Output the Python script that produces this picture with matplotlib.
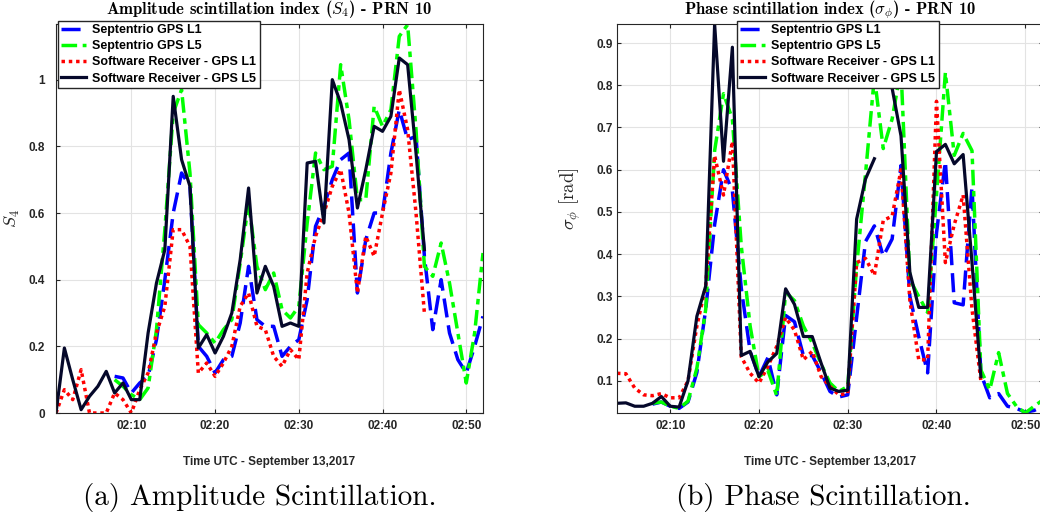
import numpy as np
import pandas as pd
import matplotlib
matplotlib.use("Agg")
import matplotlib.pyplot as plt
import matplotlib.dates as mdates

nan = np.nan

# ---------------- amplitude (S4), 02:01 .. 02:52 ----------------
t_amp = pd.date_range("2017-09-13 02:01", "2017-09-13 02:52", freq="min")
s4_sept_l1 = [nan]*7 + [0.11, 0.105, 0.06, 0.09, 0.11, 0.22, 0.40, 0.60, 0.72, 0.68, 0.20, 0.17, 0.12,
                        0.16, 0.17, 0.27, 0.44, 0.28, 0.26, 0.26, 0.17, 0.20, 0.22, 0.34, 0.56, 0.62,
                        0.70, 0.76, 0.78, 0.36, 0.52, 0.60, 0.60, 0.78, 0.91, 0.82, 0.83, 0.47, 0.25,
                        0.40, 0.24, 0.16, 0.12, 0.20, 0.29]
s4_sept_l5 = [nan]*7 + [0.10, 0.08, 0.055, 0.04, 0.075, 0.25, 0.55, 0.90, 0.97, 0.72, 0.265, 0.24, 0.21,
                        0.25, 0.28, 0.45, 0.63, 0.44, 0.37, 0.42, 0.31, 0.285, 0.32, 0.57, 0.78, 0.73,
                        0.74, 1.045, 0.88, 0.64, 0.64, 0.92, 0.86, 0.91, 1.13, 1.165, 0.85, 0.44, 0.41,
                        0.51, 0.39, 0.24, 0.09, 0.24, 0.48]
s4_sw_l1 = [0.0, 0.07, 0.04, 0.13, 0.0, 0.0, 0.0, 0.06, 0.04, 0.0, 0.07, 0.12, 0.24, 0.32, 0.55, 0.55,
            0.50, 0.12, 0.15, 0.11, 0.15, 0.20, 0.32, 0.36, 0.26, 0.25, 0.17, 0.14, 0.19, 0.16, 0.42,
            0.53, 0.60, 0.68, 0.73, 0.60, 0.36, 0.53, 0.47, 0.60, 0.72, 0.97, 0.85, 0.60, 0.30] + [nan]*7
s4_sw_l5 = [0.0, 0.195, 0.10, 0.01, 0.05, 0.08, 0.125, 0.06, 0.09, 0.04, 0.04, 0.24, 0.39, 0.49, 0.95,
            0.76, 0.68, 0.195, 0.235, 0.18, 0.23, 0.30, 0.46, 0.675, 0.36, 0.44, 0.38, 0.26, 0.27, 0.26,
            0.75, 0.755, 0.57, 1.0, 0.93, 0.82, 0.615, 0.73, 0.86, 0.845, 0.89, 1.065, 1.045, 0.78,
            0.49] + [nan]*7

# ---------------- phase (sigma_phi), 02:04 .. 02:52 ----------------
t_ph = pd.date_range("2017-09-13 02:04", "2017-09-13 02:52", freq="min")
ph_sept_l1 = [nan]*4 + [0.045, 0.05, 0.04, 0.035, 0.05, 0.12, 0.27, 0.47, 0.60, 0.55, 0.32, 0.17, 0.11,
                        0.155, 0.067, 0.255, 0.24, 0.16, 0.16, 0.12, 0.075, 0.062, 0.067, 0.25, 0.43,
                        0.467, 0.395, 0.436, 0.61, 0.30, 0.205, 0.119, 0.45, 0.62, 0.285, 0.28, 0.56,
                        0.117, 0.06, 0.07, 0.04, 0.035, 0.026, 0.03, 0.04]
ph_sept_l5 = [nan]*4 + [0.047, 0.05, 0.04, 0.035, 0.052, 0.13, 0.27, 0.645, 0.78, 0.72, 0.42, 0.23, 0.11,
                        0.125, 0.065, 0.31, 0.29, 0.23, 0.19, 0.14, 0.095, 0.075, 0.087, 0.37, 0.59,
                        0.82, 0.65, 0.72, 0.84, 0.34, 0.30, 0.262, 0.54, 0.83, 0.634, 0.686, 0.645,
                        0.126, 0.079, 0.167, 0.07, 0.04, 0.024, 0.04, 0.055]
ph_sw_l1 = [0.118, 0.117, 0.083, 0.067, 0.065, 0.07, 0.06, 0.06, 0.10, 0.23, 0.325, 0.633, 0.54, 0.667,
            0.157, 0.118, 0.095, 0.134, 0.182, 0.25, 0.22, 0.15, 0.17, 0.11, 0.087, 0.067, 0.07, 0.38,
            0.39, 0.35, 0.48, 0.49, 0.60, 0.29, 0.15, 0.15, 0.762, 0.38, 0.47, 0.54, 0.27, 0.10] + [nan]*7
ph_sw_l5 = [0.047, 0.048, 0.04, 0.04, 0.047, 0.063, 0.04, 0.038, 0.10, 0.253, 0.325, 0.945, 0.62, 0.89,
            0.16, 0.17, 0.11, 0.145, 0.165, 0.318, 0.281, 0.205, 0.205, 0.142, 0.083, 0.075, 0.078,
            0.483, 0.578, 0.626, nan, 0.793, 0.68, 0.357, 0.274, 0.274, 0.643, 0.66, 0.614, 0.636,
            0.38, 0.11] + [nan]*7

labels = ["Septentrio GPS L1", "Septentrio GPS L5",
          "Software Receiver - GPS L1", "Software Receiver - GPS L5"]
xticks = pd.to_datetime(["2017-09-13 02:10", "2017-09-13 02:20", "2017-09-13 02:30",
                         "2017-09-13 02:40", "2017-09-13 02:50"])

plt.rcParams["mathtext.fontset"] = "cm"
dark = "#262626"

fig = plt.figure(figsize=(10.4, 5.2), dpi=100)
ax1 = fig.add_axes([56/1040, 107/520, 427/1040, 389/520])
ax2 = fig.add_axes([617/1040, 107/520, 426/1040, 389/520])


def draw(ax, t, l1, l5, sw1, sw5):
    ax.plot(t, l1, color=(0, 0, 1), lw=2.5, dashes=(5.5, 2.3), label=labels[0])
    ax.plot(t, l5, color=(0, 1, 0), lw=2.5, dashes=(4.5, 1.6, 1.6, 1.6), label=labels[1])
    ax.plot(t, sw1, color=(1, 0, 0), lw=2.5, dashes=(1, 1.1), label=labels[2])
    ax.plot(t, sw5, color="#05082a", lw=2.3, label=labels[3])
    ax.grid(True, color="#e3e3e3", lw=0.8)
    ax.set_axisbelow(True)
    for s in ax.spines.values():
        s.set_color(dark)
        s.set_linewidth(0.8)
    ax.set_xticks(xticks)
    ax.xaxis.set_major_formatter(mdates.DateFormatter("%H:%M"))
    ax.tick_params(direction="in", top=True, right=True, length=3, color=dark, labelcolor=dark,
                   labelsize=8.5)
    for lab in ax.get_xticklabels() + ax.get_yticklabels():
        lab.set_fontfamily("Liberation Sans")
        lab.set_fontweight("bold")
    ax.set_xlabel("Time UTC - September 13,2017", fontsize=8.5, fontweight="bold",
                  fontfamily="Liberation Sans", color=dark)
    ax.xaxis.set_label_coords(0.5, -0.11)


draw(ax1, t_amp, s4_sept_l1, s4_sept_l5, s4_sw_l1, s4_sw_l5)
draw(ax2, t_ph, ph_sept_l1, ph_sept_l5, ph_sw_l1, ph_sw_l5)

ax1.set_xlim(pd.Timestamp("2017-09-13 02:01"), pd.Timestamp("2017-09-13 02:52"))
ax1.set_ylim(0, 1.167)
ax1.set_yticks([0, 0.2, 0.4, 0.6, 0.8, 1])
ax1.set_yticklabels(["0", "0.2", "0.4", "0.6", "0.8", "1"])
ax1.tick_params(axis="y", pad=8)
ax1.tick_params(axis="x", pad=5)
ax1.set_ylabel(r"$S_4$", fontsize=13, color=dark)
ax1.yaxis.set_label_coords(-0.08, 0.5)
ax1.set_title(r"Amplitude scintillation index ($S_4$) - PRN 10", fontfamily="cmb10",
              fontsize=12, pad=7)

ax2.set_xlim(pd.Timestamp("2017-09-13 02:04"), pd.Timestamp("2017-09-13 02:52"))
ax2.set_ylim(0.024, 0.945)
ax2.set_yticks([0.1, 0.2, 0.3, 0.4, 0.5, 0.6, 0.7, 0.8, 0.9])
ax2.tick_params(axis="y", pad=3)
ax2.tick_params(axis="x", pad=5)
ax2.set_ylabel(r"$\sigma_\phi\ [\mathrm{rad}]$", fontsize=13.5, color=dark)
ax2.yaxis.set_label_coords(-0.08, 0.55)
ax2.set_title(r"Phase scintillation index ($\sigma_\phi$) - PRN 10", fontfamily="cmb10",
              fontsize=12, pad=7)

for ax, x0 in [(ax1, 58), (ax2, 737)]:
    leg = ax.legend(loc="upper left", bbox_to_anchor=(x0/1040, 1 - 21/520),
                    bbox_transform=fig.transFigure, fancybox=False, framealpha=1,
                    edgecolor=dark, borderaxespad=0, borderpad=0.25, labelspacing=0.33,
                    handlelength=2.0, handletextpad=0.5,
                    prop={"family": "Liberation Sans", "weight": "bold", "size": 9})
    leg.get_frame().set_linewidth(1.0)
    leg.set_zorder(5)

fig.text(260/1040, 1 - 498/520, "(a) Amplitude Scintillation.", ha="center", va="center",
         fontsize=21, fontfamily="cmr10")
fig.text(823/1040, 1 - 498/520, "(b) Phase Scintillation.", ha="center", va="center",
         fontsize=21, fontfamily="cmr10")

fig.savefig("out.png", dpi=100)
